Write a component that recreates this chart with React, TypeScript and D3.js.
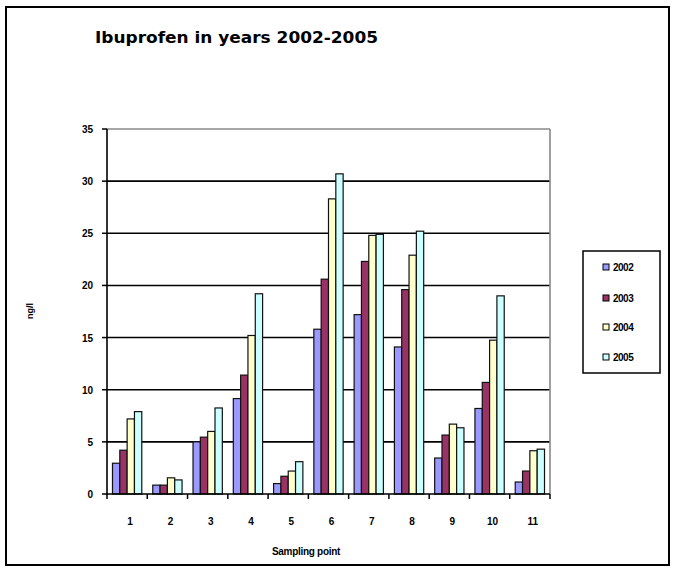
import React from "react";
import * as d3 from "d3";

const categories = ["1", "2", "3", "4", "5", "6", "7", "8", "9", "10", "11"];
const seriesNames = ["2002", "2003", "2004", "2005"];
const values2002 = [2.95, 0.85, 5.0, 9.15, 1.0, 15.8, 17.2, 14.1, 3.45, 8.2, 1.15];
const values2003 = [4.2, 0.85, 5.45, 11.4, 1.7, 20.6, 22.3, 19.6, 5.65, 10.7, 2.2];
const values2004 = [7.2, 1.55, 6.0, 15.2, 2.2, 28.3, 24.8, 22.9, 6.7, 14.75, 4.15];
const values2005 = [7.9, 1.35, 8.25, 19.2, 3.1, 30.7, 24.9, 25.2, 6.35, 19.0, 4.3];
const yTicks = [0, 5, 10, 15, 20, 25, 30, 35];
const colors = ["#9999FF", "#993366", "#FFFFCC", "#CCFFFF"];

const series = [values2002, values2003, values2004, values2005];

export default function App() {
  const W = 675, H = 572;
  const left = 107, right = 550, top = 129, bottom = 494;
  const x = d3.scaleBand<string>().domain(categories).range([left, right]).padding(0);
  const bw = x.bandwidth();
  const barW = bw / 5.5;
  const inner = d3.scaleBand<string>().domain(seriesNames)
    .range([bw * 0.75 / 5.5, bw - bw * 0.75 / 5.5]).padding(0);
  const y = d3.scaleLinear().domain([0, 35]).range([bottom, top]);
  const font = "'Liberation Sans', Arial, sans-serif";

  const boundaries = categories.map((c) => x(c) as number).concat([right]);

  return (
    <svg width={W} height={H} style={{ position: "absolute", left: 0, top: 0, background: "#fff" }}>
      <rect x={6} y={7} width={663} height={558} fill="#fff" stroke="#000" strokeWidth={2} />
      <text x={95} y={43} fontFamily="'DejaVu Sans', sans-serif" fontWeight="bold" fontSize={16}
        textLength={283} lengthAdjust="spacingAndGlyphs">Ibuprofen in years 2002-2005</text>

      {/* gridlines */}
      {yTicks.filter((t) => t > 0 && t < 35).map((t) => (
        <line key={t} x1={left} x2={right} y1={y(t)} y2={y(t)} stroke="#000" strokeWidth={1.6} />
      ))}
      <line x1={left} x2={right} y1={y(35)} y2={y(35)} stroke="#888" strokeWidth={1.6} />
      <line x1={right} x2={right} y1={top} y2={bottom} stroke="#888" strokeWidth={1.6} />

      {/* bars */}
      {series.map((vals, si) =>
        vals.map((v, ci) => (
          <rect key={`${si}-${ci}`}
            x={(x(categories[ci]) as number) + (inner(seriesNames[si]) as number)}
            y={y(v)} width={barW} height={bottom - y(v)}
            fill={colors[si]} stroke="#111" strokeWidth={1.2} />
        ))
      )}

      {/* axes */}
      <line x1={left} x2={left} y1={top} y2={bottom + 1} stroke="#000" strokeWidth={1.6} />
      <line x1={left} x2={right} y1={bottom} y2={bottom} stroke="#000" strokeWidth={1.6} />
      {yTicks.map((t) => (
        <g key={t}>
          <line x1={left - 5} x2={left} y1={y(t)} y2={y(t)} stroke="#000" strokeWidth={1.5} />
          <text x={93} y={y(t) + 4} textAnchor="end" fontFamily={font} fontWeight="bold" fontSize={10}>{t}</text>
        </g>
      ))}
      {boundaries.map((b, i) => (
        <line key={i} x1={b} x2={b} y1={bottom} y2={bottom + 5} stroke="#000" strokeWidth={1.5} />
      ))}
      {categories.map((c) => (
        <text key={c} x={(x(c) as number) + bw / 2 + 3} y={525} textAnchor="middle"
          fontFamily={font} fontWeight="bold" fontSize={10}>{c}</text>
      ))}
      <text x={306} y={555} textAnchor="middle" fontFamily={font} fontWeight="bold" fontSize={10}
        letterSpacing={-0.3}>Sampling point</text>
      <text transform="translate(33,311) rotate(-90)" textAnchor="middle" fontFamily={font}
        fontWeight="bold" fontSize={9}>ng/l</text>

      {/* legend */}
      <rect x={583} y={251} width={77} height={122} fill="#fff" stroke="#000" strokeWidth={1.5} />
      {seriesNames.map((s, i) => {
        const ly = [267, 298, 327, 357][i];
        return (
          <g key={s}>
            <rect x={603} y={ly - 3} width={6} height={6} fill={colors[i]} stroke="#000" strokeWidth={1} />
            <text x={613} y={ly + 4} fontFamily={font} fontWeight="bold" fontSize={10}
              letterSpacing={-0.5}>{s}</text>
          </g>
        );
      })}
    </svg>
  );
}
